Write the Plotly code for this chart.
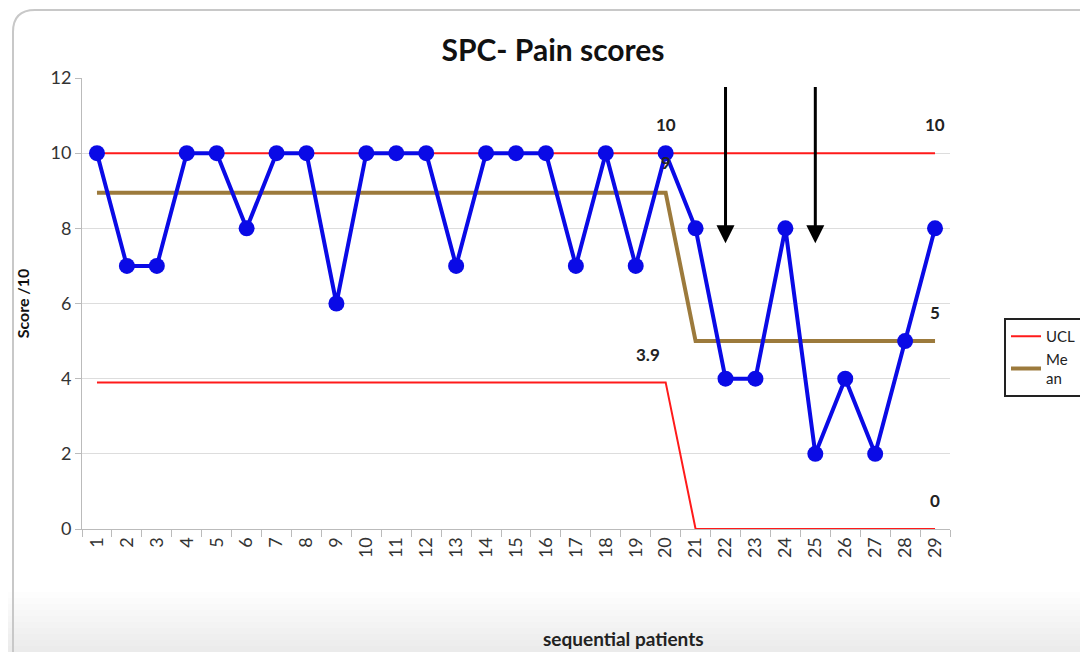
import plotly.graph_objects as go

patients = list(range(1, 30))
pain = [10, 7, 7, 10, 10, 8, 10, 10, 6, 10, 10, 10, 7, 10, 10, 10, 7, 10, 7, 10,
        8, 4, 4, 8, 2, 4, 2, 5, 8]
ucl = [10] * 29
mean = [8.95] * 20 + [5] * 9
lcl = [3.9] * 20 + [0] * 9

label_x = [20, 29, 20, 20, 29, 29]
label_y = [10.75, 10.75, 9.75, 4.65, 5.75, 0.75]
label_text = ["10", "10", "9", "3.9", "5", "0"]
label_xshift = [0, 0, 0, -18, 0, 0]

arrow_x = [22, 25]
arrow_top = [11.8, 11.8]
arrow_tip = [7.6, 7.6]

# page body has an 8px margin: figure is drawn 8px right/down of the window corner
OFF = 8
W, H = 1080, 644
L, T = 82 - OFF, 78 - OFF
R, B = W - (950 - OFF), H - (529 - OFF)
pw, ph = W - L - R, H - T - B

def px(sx):
    return (sx - OFF - L) / pw

def py(sy):
    return (H - B - (sy - OFF)) / ph

fig = go.Figure()
fig.add_trace(go.Scatter(x=patients, y=ucl, mode="lines", name="UCL",
                         line=dict(color="#FF1A1A", width=2)))
fig.add_trace(go.Scatter(x=patients, y=mean, mode="lines", name="Me<br>an",
                         line=dict(color="#9C7A3C", width=4)))
fig.add_trace(go.Scatter(x=patients, y=lcl, mode="lines", name="LCL", showlegend=False,
                         line=dict(color="#FF1A1A", width=2)))
fig.add_trace(go.Scatter(x=patients, y=pain, mode="lines+markers", name="Pain", showlegend=False,
                         line=dict(color="#0A0AE6", width=4),
                         marker=dict(color="#0A0AE6", size=16)))

for x, y, t, s in zip(label_x, label_y, label_text, label_xshift):
    fig.add_annotation(x=x, y=y, text="<b>%s</b>" % t, showarrow=False, xshift=s,
                       font=dict(size=17, color="#222", family="Lato"))

for x, y0, y1 in zip(arrow_x, arrow_top, arrow_tip):
    fig.add_annotation(x=x, y=y1, ax=x, ay=y0, axref="x", ayref="y", xref="x", yref="y",
                       text="", showarrow=True, arrowhead=2, arrowsize=1.2,
                       arrowwidth=3, arrowcolor="black")

# x axis title (offset to the right as in the reference)
fig.add_annotation(xref="paper", yref="paper", x=px(623), y=py(638),
                   text="<b>sequential patients</b>", showarrow=False,
                   xanchor="center", yanchor="middle",
                   font=dict(size=19, color="#222", family="Lato"))

shapes = []
# bottom gray gradient
for i in range(10):
    y0 = 592 + i * 6
    shapes.append(dict(type="rect", xref="paper", yref="paper",
                       x0=px(0), x1=px(1100), y0=py(670), y1=py(y0),
                       fillcolor="rgba(150,150,150,0.015)", line=dict(width=0), layer="below"))
# rounded frame
path = "M %f %f L %f %f Q %f %f %f %f L %f %f" % (
    px(13), py(670), px(13), py(32), px(13), py(10), px(35), py(10), px(1100), py(10))
shapes.append(dict(type="path", xref="paper", yref="paper", path=path,
                   line=dict(color="#C8C8C8", width=2), layer="below"))
fig.update_layout(shapes=shapes)

fig.update_layout(
    width=W, height=H,
    margin=dict(l=L, r=R, t=T, b=B, autoexpand=False),
    paper_bgcolor="white", plot_bgcolor="white",
    title=dict(text="<b>SPC- Pain scores</b>", x=px(553), xanchor="center", xref="paper",
               y=1 - (50 - OFF) / H, yanchor="middle",
               font=dict(size=30, color="#111", family="Lato")),
    font=dict(family="Lato", color="#333"),
    showlegend=True,
    legend=dict(x=px(1004), y=py(318), xanchor="left", yanchor="top",
                bordercolor="#222", borderwidth=2, bgcolor="white",
                font=dict(size=15, color="#222", family="Lato"),
                tracegroupgap=10, itemwidth=30),
    xaxis=dict(range=[0.5, 29.5], tickmode="array", tickvals=patients,
               ticktext=[str(p) for p in patients], ticks="",
               minor=dict(ticks="outside", tick0=0.5, dtick=1, ticklen=7,
                          tickcolor="#BBBBBB", showgrid=False),
               tickangle=-90, showgrid=False, zeroline=False, automargin=False,
               showline=True, linecolor="#BBBBBB", linewidth=1,
               tickfont=dict(size=18, color="#333", family="Lato")),
    yaxis=dict(range=[0, 12], dtick=2, showgrid=True, gridcolor="#DDDDDD",
               ticks="outside", ticklen=6, tickcolor="#BBBBBB", automargin=False,
               showline=True, linecolor="#BBBBBB", zeroline=False,
               tickfont=dict(size=18, color="#333", family="Lato"),
               title=dict(text="<b>Score /10</b>", standoff=16,
                          font=dict(size=16, color="#111", family="Lato"))),
)

fig.write_html("out.html")
